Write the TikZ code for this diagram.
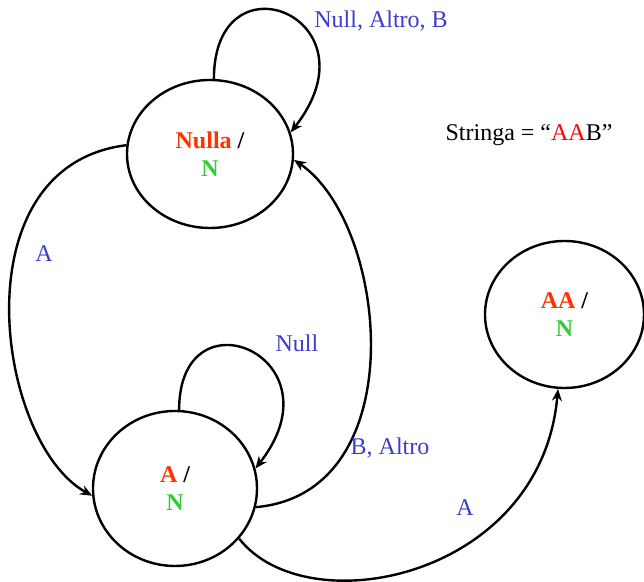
\documentclass[tikz,border=0pt]{standalone}
\usepackage{fontspec}
\setmainfont{Liberation Serif}
\usetikzlibrary{shapes.geometric, arrows.meta}
\definecolor{rosso}{RGB}{255,51,0}
\definecolor{verde}{RGB}{51,204,51}
\definecolor{blu}{RGB}{60,60,205}
\definecolor{rossostr}{RGB}{255,0,0}

\begin{document}
\begin{tikzpicture}[x=0.5pt, y=0.5pt, line width=1.2pt,
    every node/.style={font=\fontsize{12}{14}\selectfont},
    stato/.style={draw, ellipse, inner sep=0pt, align=center, font=\fontsize{12}{14}\selectfont\bfseries},
    etichetta/.style={text=blu},
    >={Stealth[length=6pt, width=5pt]}]
    \useasboundingbox (0,0) rectangle (644,582);

    % Stati
    \node[stato, minimum width=83pt, minimum height=74pt] (nulla) at (210,428) {\textcolor{rosso}{Nulla} /\\\textcolor{verde}{N}};
    \node[stato, minimum width=82pt, minimum height=77.5pt] (a) at (175,93.5) {\textcolor{rosso}{A} /\\\textcolor{verde}{N}};
    \node[stato, minimum width=79.5pt, minimum height=73.5pt] (aa) at (564.5,267.5) {\textcolor{rosso}{AA} /\\\textcolor{verde}{N}};

    % Stringa in ingresso
    \node (stringa) at (529,447) {Stringa = “\textcolor{rossostr}{AA}B”};

    % Transizioni
    \draw[->] (nulla.87) to[out=90, in=52, out distance=64pt, in distance=73pt] (nulla.15);
    \draw[->] (nulla.174) to[out=187, in=151, out distance=85pt, in distance=55pt] (a.185);
    \draw[->] (a.-13) to[out=5, in=-34, out distance=80pt, in distance=57pt] (nulla.-4);
    \draw[->] (a.87) to[out=90, in=52, out distance=61pt, in distance=71pt] (a.14);
    \draw[->] (a.-38) to[out=-52, in=-95, out distance=55pt, in distance=95pt] (aa.-95);

    % Etichette delle transizioni
    \node[etichetta] (lnulla) at (381,561) {Null, Altro, B};
    \node[etichetta] (lna) at (44,328) {A};
    \node[etichetta] (lanulla) at (390,134) {B, Altro};
    \node[etichetta] (la) at (297,239) {Null};
    \node[etichetta] (laaa) at (465,74) {A};
\end{tikzpicture}
\end{document}
